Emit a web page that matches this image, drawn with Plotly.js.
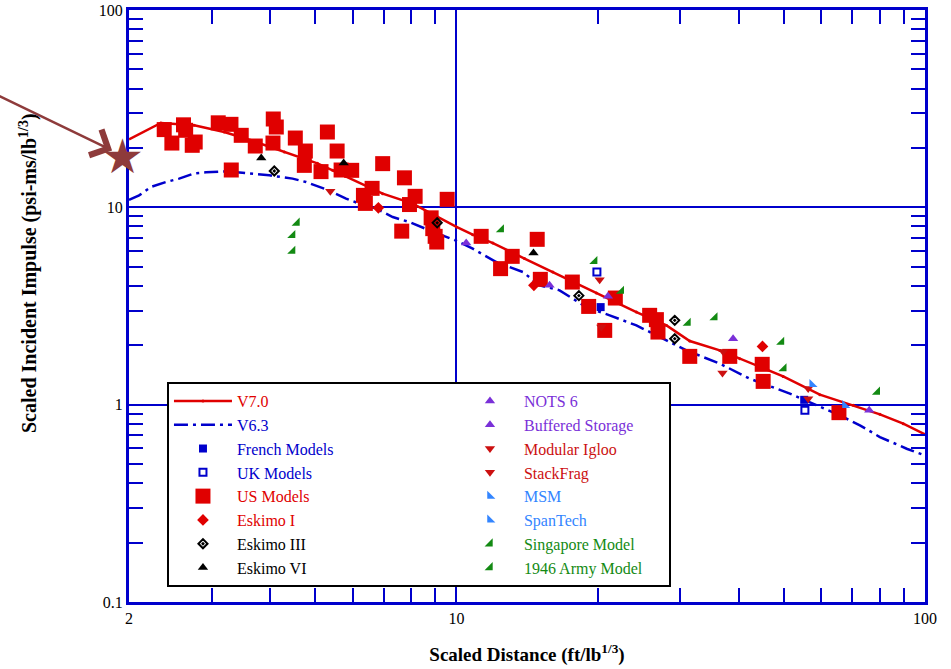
<!DOCTYPE html>
<html><head><meta charset="utf-8">
<script src="https://cdn.plot.ly/plotly-3.0.1.min.js"></script>
<style>html,body{margin:0;padding:0;background:#fff}#chart{width:951px;height:669px}</style>
</head><body><div id="chart"></div>
<script>
// ---------- data ----------
const v70X = [2.0,2.339,2.755,3.194,3.641,4.292,5.047,5.441,6.958,8.065,9.121,10.0,10.83,11.96,13.97,16.06,19.89,24.21,28.07,31.47,36.48,40.24,49.80,59.65,70.29,80.13,89.87,100];
const v70Y = [22.12,26.75,26.04,24.08,21.86,19.07,16.71,15.40,11.73,10.44,8.93,7.96,7.27,6.59,5.50,4.70,3.678,2.946,2.522,2.101,1.884,1.710,1.391,1.124,0.992,0.893,0.801,0.7075];
const v63X = [2.0,2.102,2.230,2.398,2.559,2.755,2.919,3.246,3.553,3.985,4.469,4.773,5.267,5.812,6.205,6.736,7.310,7.937,8.757,9.506,10.0,10.83,12.16,13.86,15.05,16.60,18.93,21.23,24.21,28.07,30.96,36.48,42.28,51.47,60.16,65.82,72.62,80.13,91.40,100];
const v63Y = [10.91,11.50,12.70,13.43,13.98,14.87,15.05,15.22,14.92,14.53,13.98,13.43,12.34,11.07,10.44,9.85,8.93,8.42,7.646,7.071,6.764,6.175,5.282,4.700,4.025,3.797,3.122,2.836,2.522,2.118,1.884,1.614,1.354,1.137,0.972,0.883,0.786,0.685,0.598,0.553];

const frenchX = [20.31,55.23];
const frenchY = [3.122,1.058];
const ukX = [19.94,55.42];
const ukY = [4.70,0.936];
const usX = [2.378,2.469,2.614,2.642,2.729,2.769,3.101,3.301,3.472,3.720,3.306,4.064,4.125,4.058,4.529,4.758,4.734,5.139,5.302,5.562,5.672,5.975,6.958,7.743,6.605,6.33,6.39,8.161,7.937,9.553,7.641,8.829,8.900,9.005,9.076,11.29,14.87,13.15,12.42,15.10,17.67,19.15,21.83,20.72,25.84,26.71,26.92,31.47,38.31,44.93,45.14,65.51];
const usY = [24.77,21.17,26.19,24.57,20.62,21.43,26.81,26.34,23.17,20.45,15.46,28.03,25.53,21.17,22.45,19.29,16.32,15.17,24.08,19.29,15.46,15.40,16.65,14.11,12.48,11.50,10.47,11.37,10.33,10.98,7.575,8.845,7.80,7.129,6.670,7.129,6.884,5.645,4.89,4.316,4.182,3.147,3.47,2.379,2.836,2.697,2.333,1.757,1.757,1.601,1.312,0.911];
const eskimo1X = [6.812,14.63,44.99];
const eskimo1Y = [9.94,4.025,1.973];
const eskimo3X = [4.084,9.095,18.25,29.23,29.23];
const eskimo3Y = [15.28,8.35,3.568,2.675,2.160];
const eskimo6X = [3.831,5.744,14.60];
const eskimo6Y = [17.78,16.77,5.866];
const nots6X = [10.49,21.05,76.03];
const nots6Y = [6.59,3.539,0.936];
const bufferedX = [15.80,38.94];
const bufferedY = [4.025,2.160];
const igluX = [5.379,20.21,37.07,56.32];
const igluY = [12.05,4.30,1.862,1.206];
const stackX = [20.38,36.96,56.32];
const stackY = [2.473,1.445,1.072];
const msmX = [57.43];
const msmY = [1.268];
const spanX = [67.47];
const spanY = [0.992];
const singX = [4.566,4.469,4.469,12.46,19.72];
const singY = [8.33,7.21,6.006,7.71,5.325];
const armyX = [22.48,31.20,35.59,49.40,49.96,79.09];
const armyY = [3.765,2.591,2.761,2.077,1.522,1.159];
const starX = [2];
const starY = [18.35];

const xTickVals = [2,10,100];
const xTickText = ['2','10','100'];
const xMinorVals = [3,4,5,6,7,8,9,20,30,40,50,60,70,80,90];
const yTickVals = [0.1,1,10,100];
const yTickText = ['0.1','1','10','100'];
const yMinorVals = [0.2,0.3,0.4,0.5,0.6,0.7,0.8,0.9,2,3,4,5,6,7,8,9,20,30,40,50,60,70,80,90];

// ---------- styles ----------
const BLUE = '#0000cc', RED = '#e00000', DRED = '#cc1010', PURPLE = '#7a30d8', LBLUE = '#3385ff', GREEN = '#138a13', BROWN = '#8e3b3b';
const SERIF = 'Liberation Serif, Times New Roman, serif';
const lbl = (t, c) => '<span style="color:' + c + '">' + t + '</span>';
const COL1 = 214, COL2 = 140;

function pts(x, y, name, color, symbol, size, rank, lw) {
  return {
    type: 'scatter', mode: 'markers', x: x, y: y, name: lbl(name, color),
    marker: {color: color, symbol: symbol, size: size, line: {color: color, width: lw || 0}},
    legendrank: rank, legendwidth: (rank % 2 === 1) ? COL1 : COL2, cliponaxis: false
  };
}

const traces = [
  {type:'scatter', mode:'lines', x:v63X, y:v63Y, name:lbl('V6.3',BLUE), line:{color:BLUE,width:2.5,dash:'14px,5px,3px,5px'}, legendrank:3, legendwidth:COL1},
  {type:'scatter', mode:'lines+markers', x:v70X, y:v70Y, name:lbl('V7.0',RED), line:{color:RED,width:2.5}, marker:{color:RED,size:3}, legendrank:1, legendwidth:COL1},
  pts(frenchX, frenchY, 'French Models', BLUE, 'square', 8, 5),
  pts(ukX, ukY, 'UK Models', BLUE, 'square-open', 7, 7, 2),
  pts(usX, usY, 'US Models', RED, 'square', 15, 9),
  pts(eskimo1X, eskimo1Y, 'Eskimo I', RED, 'diamond', 9, 11),
  pts(eskimo3X, eskimo3Y, 'Eskimo III', 'black', 'diamond-open-dot', 7, 13, 2),
  pts(eskimo6X, eskimo6Y, 'Eskimo VI', 'black', 'triangle-up', 9, 15),
  pts(nots6X, nots6Y, 'NOTS 6', PURPLE, 'triangle-up', 9, 2),
  pts(bufferedX, bufferedY, 'Buffered Storage', PURPLE, 'triangle-up', 9, 4),
  pts(igluX, igluY, 'Modular Igloo', DRED, 'triangle-down', 9, 6),
  pts(stackX, stackY, 'StackFrag', DRED, 'triangle-down', 9, 8),
  pts(msmX, msmY, 'MSM', LBLUE, 'triangle-sw', 9, 10),
  pts(spanX, spanY, 'SpanTech', LBLUE, 'triangle-sw', 9, 12),
  pts(singX, singY, 'Singapore Model', GREEN, 'triangle-se', 9, 14),
  pts(armyX, armyY, '1946 Army Model', GREEN, 'triangle-se', 9, 16)
];

const axisCommon = {
  type: 'log', showline: true, linecolor: BLUE, linewidth: 3, mirror: 'allticks',
  ticks: 'inside', ticklen: 14, tickwidth: 2, tickcolor: BLUE,
  showgrid: true, gridcolor: BLUE, gridwidth: 2, zeroline: false,
  tickmode: 'array', tickfont: {family: SERIF, size: 16, color: 'black'},
  automargin: false
};

const layout = {
  width: 951, height: 669,
  margin: {l: 129, r: 26, t: 10, b: 67},
  paper_bgcolor: 'white', plot_bgcolor: 'white',
  font: {family: SERIF, size: 16, color: 'black'},
  xaxis: Object.assign({}, axisCommon, {
    range: [Math.log10(2), 2], tickvals: xTickVals, ticktext: xTickText,
    minor: {tickmode: 'array', tickvals: xMinorVals, ticks: 'inside', ticklen: 14, tickwidth: 2, tickcolor: BLUE, showgrid: false},
    title: {text: 'Scaled Distance (ft/lb<sup>1/3</sup>)', font: {family: SERIF, size: 19, color: 'black', weight: 'bold'}, standoff: 22}
  }),
  yaxis: Object.assign({}, axisCommon, {
    range: [-1, 2], tickvals: yTickVals, ticktext: yTickText,
    minor: {tickmode: 'array', tickvals: yMinorVals, ticks: 'inside', ticklen: 14, tickwidth: 2, tickcolor: BLUE, showgrid: false}
  }),
  legend: {
    orientation: 'h', x: 0.0477, xanchor: 'left', y: 0.3716, yanchor: 'top',
    bgcolor: 'white', bordercolor: 'black', borderwidth: 2,
    font: {family: SERIF, size: 16}, itemwidth: 58, entrywidthmode: 'pixels', entrywidth: COL1,
    traceorder: 'normal'
  },
  annotations: [
    {xref: 'paper', yref: 'paper', x: -0.1269, y: 0.5557, xanchor: 'center', yanchor: 'middle',
     textangle: -90, showarrow: false,
     text: 'Scaled Incident Impulse (psi-ms/lb<sup>1/3</sup>)',
     font: {family: SERIF, size: 20, color: 'black', weight: 'bold'}},
    {xref: 'x', yref: 'y', x: Math.log10(starX[0]), y: Math.log10(starY[0]), xshift: -7,
     text: '', showarrow: true, arrowhead: 4, arrowsize: 2.2, arrowwidth: 2.5, arrowcolor: BROWN,
     ax: -124, ay: -60, axref: 'pixel', ayref: 'pixel', standoff: 11},
    {xref: 'x', yref: 'y', x: Math.log10(starX[0]), y: Math.log10(starY[0]), xshift: -7, yshift: -1,
     text: '★', showarrow: false, font: {family: 'DejaVu Sans', size: 48, color: BROWN}}
  ],
  showlegend: true
};

Plotly.newPlot('chart', traces, layout, {displayModeBar: false, staticPlot: true});
</script>
</body></html>
